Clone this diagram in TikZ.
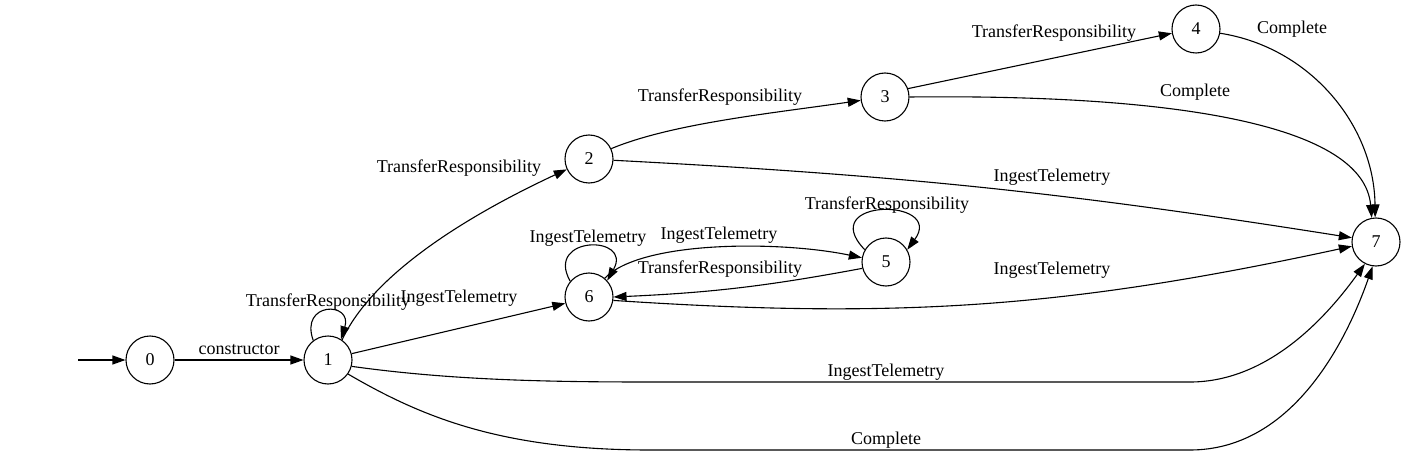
\documentclass[tikz,border=0pt]{standalone}
\usepackage{fontspec}
\setmainfont{Liberation Serif}
\usepackage{tikz}
\usetikzlibrary{arrows.meta}
\tikzset{state/.style = {draw, circle, line width=1.1pt, minimum size=48pt, inner sep=0pt,
                         font=\fontsize{18}{20}\selectfont},
         trans/.style = {line width=1.1pt, -{Triangle[length=13pt, width=9pt]}},
         lab/.style   = {inner sep=0pt, font=\fontsize{18}{20}\selectfont}}

\begin{document}
\begin{tikzpicture}[x=1pt, y=1pt]
    \useasboundingbox (0, 0) rectangle (1405, 456);
    % states
    \coordinate (init) at (78, 96);
    \node [state] (n0) at (150, 96) {0};
    \node [state] (n1) at (328, 96) {1};
    \node [state] (n2) at (589, 297) {2};
    \node [state] (n3) at (885, 359) {3};
    \node [state] (n4) at (1196, 427) {4};
    \node [state] (n5) at (886, 194) {5};
    \node [state] (n6) at (589, 159) {6};
    \node [state] (n7) at (1376, 214) {7};
    % transitions
    \draw [trans] (init) -- (n0);
    \draw [trans] (n0) -- (n1);
    \draw [trans] (n1.127) .. controls +(-14, 39) and +(12, 38) .. (n1.58);
    \draw [trans] (n1.55) .. controls +(35, 75) and +(-75, -35) .. (n2.205);
    \draw [trans] (n1.15) -- (n6.195);
    \draw [trans] (n1.-15) .. controls +(100, -14) and +(-100, 0) .. (650, 74)
        -- (1190, 74) .. controls +(80, 0) and +(-36, -50) .. (n7.243);
    \draw [trans] (n1.-35) .. controls +(72, -42) and +(-150, 0) .. (650, 6)
        -- (1190, 6) .. controls +(100, 0) and +(-28, -80) .. (n7.262);
    \draw [trans] (n2.25) .. controls +(60, 25) and +(-90, -13) .. (n3.188);
    \draw [trans] (n2.-3) to [bend left=3] (n7.170);
    \draw [trans] (n3.20) -- (n4.190);
    \draw [trans] (n3.0) .. controls +(271, 3) and +(-8, 92) .. (n7.100);
    \draw [trans] (n4.-10) .. controls +(90, -14) and +(-1, 92) .. (n7.92);
    \draw [trans] (n5.150) .. controls +(-50, 52) and +(38, 52) .. (n5.30);
    \draw [trans] (n5.195) to [bend left=4] (n6.0);
    \draw [trans] (n6.140) .. controls +(-26, 46) and +(26, 46) .. (n6.42);
    \draw [trans] (n6.50) .. controls +(36, 38) and +(-81, 17) .. (n5.170);
    \draw [trans] (n6.-8) to [bend right=8] (n7.190);
    % labels
    \node [lab] (l01) at (239, 106) {constructor};
    \node [lab] (l11) at (328, 154) {TransferResponsibility};
    \node [lab] (l12) at (459, 288) {TransferResponsibility};
    \node [lab] (l16) at (459, 158) {IngestTelemetry};
    \node [lab] (l17a) at (886, 84) {IngestTelemetry};
    \node [lab] (l17b) at (886, 16) {Complete};
    \node [lab] (l23) at (720, 359) {TransferResponsibility};
    \node [lab] (l27) at (1052, 279) {IngestTelemetry};
    \node [lab] (l34) at (1054, 423) {TransferResponsibility};
    \node [lab] (l37) at (1195, 364) {Complete};
    \node [lab] (l47) at (1292, 427) {Complete};
    \node [lab] (l55) at (887, 251) {TransferResponsibility};
    \node [lab] (l56) at (720, 187) {TransferResponsibility};
    \node [lab] (l65) at (719, 221) {IngestTelemetry};
    \node [lab] (l66) at (588, 218) {IngestTelemetry};
    \node [lab] (l67) at (1052, 186) {IngestTelemetry};
\end{tikzpicture}
\end{document}
